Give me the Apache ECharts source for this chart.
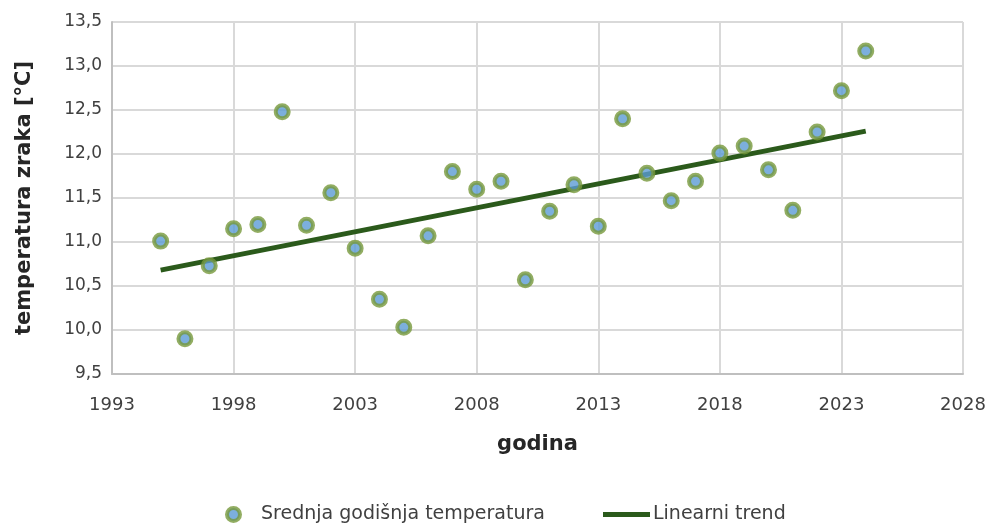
<!DOCTYPE html>
<html>
<head>
<meta charset="utf-8">
<script src="https://cdn.jsdelivr.net/npm/echarts@6/dist/echarts.min.js"></script>
<style>
  html, body { margin: 0; padding: 0; background: #fff; }
  #chart { width: 990px; height: 524px; }
</style>
</head>
<body>
<div id="chart"></div>
<script>
// godine i srednje godišnje temperature (°C), očitano sa slike
const years = [1995, 1996, 1997, 1998, 1999, 2000, 2001, 2002, 2003, 2004,
               2005, 2006, 2007, 2008, 2009, 2010, 2011, 2012, 2013, 2014,
               2015, 2016, 2017, 2018, 2019, 2020, 2021, 2022, 2023, 2024];
const temps = [11.01, 9.90, 10.73, 11.15, 11.20, 12.48, 11.19, 11.56, 10.93, 10.35,
               10.03, 11.07, 11.80, 11.60, 11.69, 10.57, 11.35, 11.65, 11.18, 12.40,
               11.78, 11.47, 11.69, 12.01, 12.09, 11.82, 11.36, 12.25, 12.72, 13.17];
// krajnje točke linearnog trenda
const trendYears = [1995, 2024];
const trendTemps = [10.68, 12.26];

const xStart = 1993; // x os počinje od 1993, pomak da kvačice idu od min
const font = 'DejaVu Sans';
const green = '#77993b';
const blue = '#5b9bd5';
const trendColor = '#2b5a1b';

const chart = echarts.init(document.getElementById('chart'));
chart.setOption({
  animation: false,
  textStyle: { fontFamily: font },
  grid: { left: 112, right: 27, top: 22, bottom: 150 },
  xAxis: {
    type: 'value',
    min: 0, max: 35, interval: 5,
    name: 'godina',
    nameLocation: 'middle',
    nameGap: 60,
    nameTextStyle: { fontSize: 21, fontWeight: 'bold', color: '#262626', fontFamily: font },
    axisLine: { show: true, lineStyle: { color: '#bfbfbf', width: 2 } },
    axisTick: { show: false },
    axisLabel: { fontSize: 18, color: '#404040', margin: 22, formatter: v => String(v + xStart) },
    splitLine: { show: true, lineStyle: { color: '#d9d9d9', width: 2 } }
  },
  yAxis: {
    type: 'value',
    min: 9.5, max: 13.5, interval: 0.5,
    name: 'temperatura zraka [°C]',
    nameLocation: 'middle',
    nameGap: 77,
    nameTextStyle: { fontSize: 21, fontWeight: 'bold', color: '#262626', fontFamily: font },
    axisLine: { show: true, lineStyle: { color: '#bfbfbf', width: 2 } },
    axisTick: { show: false },
    axisLabel: { fontSize: 17, color: '#404040', margin: 10, formatter: v => v.toFixed(1).replace('.', ',') },
    splitLine: { show: true, lineStyle: { color: '#d9d9d9', width: 2 } }
  },
  legend: [
    {
      data: [{ name: 'Srednja godišnja temperatura', icon: 'circle' }],
      left: 220, top: 500,
      itemWidth: 13, itemHeight: 13,
      itemStyle: { borderWidth: 4, borderColor: green, color: blue },
      textStyle: { fontSize: 19, color: '#404040', padding: [0, 0, 0, 16] }
    },
    {
      data: [{ name: 'Linearni trend', icon: 'rect' }],
      left: 598, top: 500,
      itemWidth: 47, itemHeight: 5,
      itemStyle: { color: trendColor },
      textStyle: { fontSize: 19, color: '#404040', padding: [0, 0, 0, -2] }
    }
  ],
  series: [
    {
      name: 'Linearni trend',
      type: 'line',
      symbol: 'none',
      z: 2,
      lineStyle: { color: trendColor, width: 5 },
      itemStyle: { color: trendColor },
      data: trendYears.map((y, i) => [y - xStart, trendTemps[i]])
    },
    {
      name: 'Srednja godišnja temperatura',
      type: 'scatter',
      symbol: 'circle',
      symbolSize: 13,
      z: 3,
      itemStyle: { color: blue, borderColor: green, borderWidth: 4 },
      data: years.map((y, i) => [y - xStart, temps[i]])
    }
  ]
});
</script>
</body>
</html>
